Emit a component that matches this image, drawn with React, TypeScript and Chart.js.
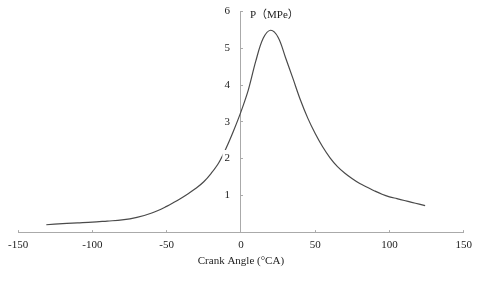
import React, { useEffect, useRef } from "react";
import { Chart, registerables } from "chart.js";

Chart.register(...registerables);

const angles = [-131, -120, -110, -100, -90, -80, -70, -60, -50, -45, -40, -35, -30, -25, -20, -15, -10, -5, 0, 5, 10, 15, 20, 25, 30, 35, 40, 45, 50, 55, 60, 65, 70, 75, 80, 85, 90, 95, 100, 105, 110, 115, 120, 124];
const pressures = [0.2, 0.23, 0.25, 0.27, 0.3, 0.33, 0.4, 0.52, 0.7, 0.81, 0.93, 1.06, 1.2, 1.37, 1.6, 1.88, 2.28, 2.75, 3.27, 3.87, 4.65, 5.27, 5.49, 5.3, 4.75, 4.18, 3.6, 3.1, 2.68, 2.32, 2.02, 1.78, 1.6, 1.45, 1.32, 1.22, 1.12, 1.03, 0.96, 0.91, 0.86, 0.81, 0.76, 0.72];
const xTicks = [-150, -100, -50, 0, 50, 100, 150];
const yTicks = [1, 2, 3, 4, 5, 6];
const xTitle = "Crank Angle (°CA)";
const yTitle = "P（MPe）";

const FONT = '"Liberation Serif", "Times New Roman", "Noto Sans CJK SC", serif';
const Y_LABEL_SHIFT = 11;

const yTitlePlugin = {
  id: "yTitlePlugin",
  beforeDraw(chart: any) {
    const ys = chart.scales.y;
    const items = ys.getLabelItems(chart.chartArea);
    for (const item of items) {
      if (!item._shifted) {
        item.options.translation = [item.options.translation[0] - Y_LABEL_SHIFT, item.options.translation[1]];
        item._shifted = true;
      }
    }
  },
  afterDraw(chart: any) {
    const ctx = chart.ctx;
    const xs = chart.scales.x;
    const ys = chart.scales.y;
    ctx.save();
    ctx.fillStyle = "#222";
    ctx.font = "11px " + FONT;
    ctx.textAlign = "left";
    ctx.textBaseline = "middle";
    ctx.fillText(yTitle, xs.getPixelForValue(0) + 9, ys.getPixelForValue(6) + 4);
    ctx.restore();
  },
};

export default function App() {
  const ref = useRef<HTMLCanvasElement>(null);
  useEffect(() => {
    if (!ref.current) return;
    const chart = new Chart(ref.current, {
      type: "scatter",
      data: {
        datasets: [
          {
            data: angles.map((a, i) => ({ x: a, y: pressures[i] })),
            showLine: true,
            borderColor: "#4a4a4a",
            borderWidth: 1.2,
            pointRadius: 0,
            tension: 0.35,
          },
        ],
      },
      options: {
        responsive: false,
        animation: false,
        layout: { padding: { left: 17, right: 11, top: 11.5, bottom: 25 } },
        plugins: { legend: { display: false }, tooltip: { enabled: false } },
        scales: {
          x: {
            type: "linear",
            position: "bottom",
            min: -150,
            max: 150,
            afterBuildTicks: (s: any) => {
              s.ticks = xTicks.map((v) => ({ value: v }));
            },
            border: { display: true, color: "#aaa", width: 1 },
            grid: { drawOnChartArea: false, drawTicks: true, tickLength: -2, color: "#aaa" },
            ticks: { color: "#222", font: { family: FONT, size: 11 }, padding: 8, maxRotation: 0 },
            title: { display: true, text: xTitle, color: "#222", font: { family: FONT, size: 11 }, padding: { top: -4.5, bottom: 0 } },
          },
          y: {
            type: "linear",
            position: { x: 0 } as any,
            min: 0,
            max: 6,
            afterBuildTicks: (s: any) => {
              s.ticks = yTicks.map((v) => ({ value: v }));
            },
            border: { display: true, color: "#aaa", width: 1 },
            grid: { drawOnChartArea: false, drawTicks: true, tickLength: -3, color: "#aaa" },
            ticks: {
              color: "#222",
              font: { family: FONT, size: 11 },
              padding: 0,
              z: 1,
              showLabelBackdrop: true,
              backdropColor: "#fff",
              backdropPadding: 2,
            } as any,
          },
        },
      },
      plugins: [yTitlePlugin],
    });
    return () => chart.destroy();
  }, []);
  return (
    <div style={{ position: "absolute", left: 0, top: 0, width: 480, height: 293, background: "#fff" }}>
      <canvas ref={ref} width={480} height={293} style={{ display: "block" }} />
    </div>
  );
}
